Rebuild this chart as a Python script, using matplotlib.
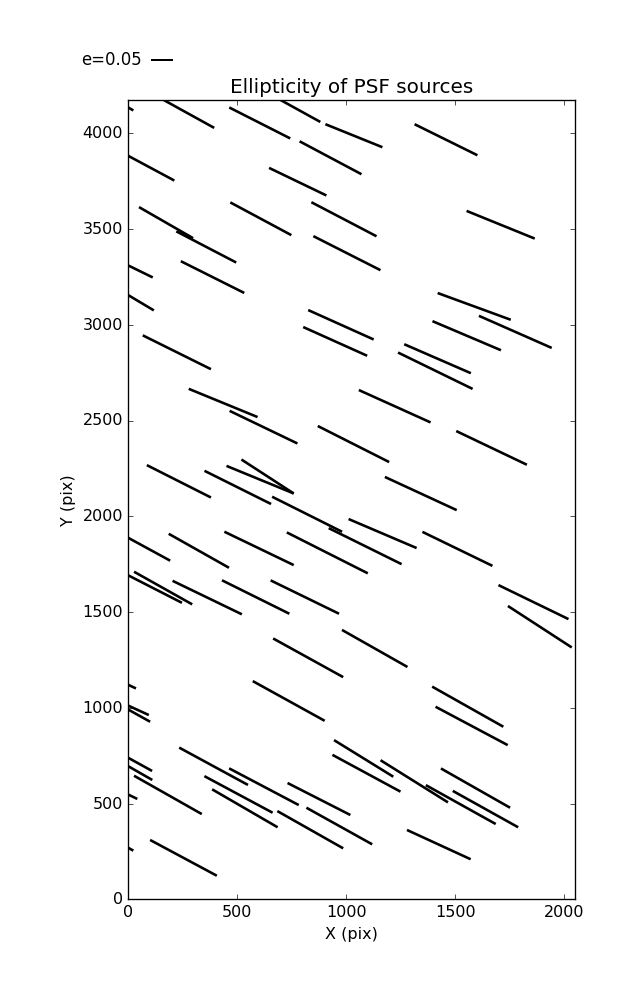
import numpy as np
import matplotlib
matplotlib.use("Agg")
import matplotlib.pyplot as plt

plt.style.use("classic")

# PSF source positions (pix) and ellipticity stick (magnitude e, screen angle in deg)
x_src = [23, 394, 743, 881, 1166, 1070, 1602, 211, 909, 297,
         495, 748, 1139, 1157, 1865, 112, 532, 117, 1755, 379,
         1126, 1096, 593, 776, 1197, 379, 655, 759, 759, 981,
         1943, 1710, 1572, 1580, 1387, 1829, 1507, 1254, 1323, 1099,
         192, 462, 759, 1671, 2020, 2035, 1281, 1721, 293, 246,
         521, 739, 967, 986, 35, 901, 94, 100, 1216, 1249,
         109, 110, 337, 549, 782, 662, 685, 1019, 1119, 986,
         41, 23, 406, 1741, 1467, 1686, 1752, 1789, 1571]
y_src = [4120, 4029, 3974, 4060, 3928, 3787, 3886, 3754, 3676, 3453,
         3326, 3469, 3463, 3286, 3451, 3248, 3167, 3076, 3027, 2769,
         2924, 2839, 2519, 2381, 2284, 2099, 2065, 2120, 2120, 1920,
         2880, 2868, 2748, 2666, 2491, 2270, 2033, 1751, 1835, 1703,
         1769, 1732, 1746, 1742, 1464, 1316, 1214, 902, 1541, 1549,
         1489, 1492, 1492, 1161, 1102, 933, 963, 928, 641, 563,
         671, 624, 446, 598, 493, 453, 377, 441, 288, 267,
         525, 255, 124, 806, 507, 394, 479, 377, 210]
e_mag = [0.16, 0.17, 0.159, 0.16, 0.143, 0.163, 0.163, 0.17, 0.148, 0.145,
         0.157, 0.161, 0.171, 0.175, 0.171, 0.15, 0.165, 0.15, 0.181, 0.177,
         0.167, 0.163, 0.173, 0.175, 0.186, 0.167, 0.173, 0.169, 0.145, 0.182,
         0.185, 0.173, 0.169, 0.193, 0.183, 0.182, 0.184, 0.189, 0.172, 0.211,
         0.17, 0.161, 0.179, 0.181, 0.181, 0.177, 0.175, 0.190, 0.155, 0.17,
         0.179, 0.175, 0.177, 0.186, 0.15, 0.191, 0.15, 0.15, 0.162, 0.180,
         0.15, 0.15, 0.181, 0.182, 0.183, 0.180, 0.176, 0.164, 0.175, 0.176,
         0.15, 0.15, 0.176, 0.190, 0.185, 0.186, 0.185, 0.174, 0.163]
theta_deg = [-30, -28.9, -26.9, -28.9, -22.0, -28.0, -26.3, -28.2, -25.7, -29.9,
             -27.5, -28.2, -27.6, -26.9, -22.1, -26.1, -26.6, -30.8, -20.1, -26.4,
             -24.2, -24.2, -22.3, -25.7, -26.8, -26.8, -26.5, -22.3, -33.0, -26.6,
             -23.8, -23.0, -23.5, -26.0, -24.3, -25.5, -24.8, -26.3, -23.1, -26.8,
             -28.6, -29.4, -25.7, -25.9, -25.9, -33.0, -29.5, -29.4, -29.3, -27.1,
             -25.8, -26.4, -26.0, -28.9, -25.0, -28.9, -24.6, -29.1, -31.7, -28.4,
             -28.9, -29.7, -29.5, -28.5, -27.8, -28.2, -30.1, -27.0, -29.1, -29.5,
             -25.7, -29.0, -28.2, -28.0, -32.0, -29.1, -29.6, -29.1, -24.7]

key_e = 0.05

th = np.deg2rad(np.array(theta_deg))
e = np.array(e_mag)
U = e * np.cos(th)
V = e * np.sin(th)

fig = plt.figure(figsize=(637.3 / 96, 1000.3 / 96), dpi=96)
fig.subplots_adjust(left=0.2014, right=0.9016, bottom=0.1005, top=0.9)
ax = fig.add_subplot(111)
Q = ax.quiver(x_src, y_src, U, V, color='k', angles='uv', pivot='tip',
              scale_units='dots', scale=1 / 430.0, units='dots', width=2.6,
              headwidth=0, headlength=0, headaxislength=0)
ax.quiverkey(Q, 0.2370, 0.94, key_e, 'e=%.2f' % key_e, labelpos='W',
             coordinates='figure', fontproperties={'size': 12.4})
ax.set_xlim(0, 2048)
ax.set_ylim(0, 4176)
ax.set_xlabel('X (pix)')
ax.set_ylabel('Y (pix)')
ax.set_title('Ellipticity of PSF sources', fontsize=15)
fig.savefig('out.png', dpi=96, facecolor='white')
